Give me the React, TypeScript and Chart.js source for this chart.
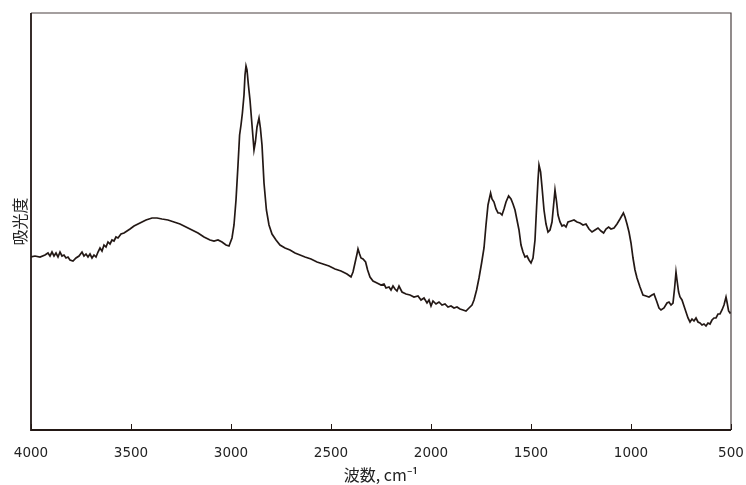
import { useEffect, useRef } from 'react';
import { Chart, registerables } from 'chart.js';

Chart.register(...registerables);

const wavenumbers = [
  4000, 3980, 3955, 3930, 3915, 3905, 3895, 3885, 3875, 3865,
  3855, 3845, 3835, 3825, 3815, 3805, 3790, 3775, 3760, 3745,
  3735, 3725, 3715, 3705, 3695, 3685, 3675, 3665, 3655, 3645,
  3635, 3625, 3615, 3605, 3595, 3585, 3575, 3565, 3550, 3535,
  3520, 3505, 3485, 3455, 3425, 3395, 3370, 3345, 3315, 3285,
  3255, 3225, 3195, 3165, 3135, 3105, 3085, 3065, 3045, 3025,
  3010, 2995, 2985, 2975, 2965, 2957, 2950, 2943, 2935, 2930,
  2925, 2920, 2913, 2905, 2895, 2885, 2878, 2870, 2860, 2853,
  2845, 2835, 2823, 2810, 2795, 2775, 2755, 2730, 2705, 2680,
  2655, 2630, 2600, 2570, 2540, 2510, 2480, 2450, 2420, 2400,
  2390, 2380, 2370, 2365, 2357, 2350, 2340, 2327, 2317, 2305,
  2290, 2270, 2250, 2235, 2225, 2210, 2200, 2190, 2180, 2170,
  2160, 2145, 2125, 2105, 2085, 2065, 2050, 2035, 2020, 2010,
  2000, 1990, 1975, 1960, 1945, 1930, 1915, 1900, 1885, 1870,
  1855, 1840, 1825, 1810, 1795, 1785, 1772, 1760, 1747, 1735,
  1725, 1715, 1702, 1695, 1685, 1675, 1665, 1655, 1645, 1635,
  1625, 1612, 1600, 1590, 1580, 1570, 1560, 1550, 1540, 1530,
  1520, 1510, 1500, 1490, 1480, 1472, 1465, 1460, 1452, 1445,
  1435, 1425, 1415, 1405, 1395, 1387, 1380, 1372, 1365, 1355,
  1345, 1335, 1325, 1315, 1300, 1285, 1270, 1255, 1240, 1225,
  1210, 1195, 1180, 1165, 1150, 1137, 1125, 1112, 1100, 1085,
  1070, 1055, 1038, 1030, 1020, 1010, 1000, 990, 980, 970,
  955, 940, 925, 910, 895, 885, 872, 860, 850, 835,
  820, 810, 800, 790, 782, 775, 770, 762, 755, 745,
  735, 725, 715, 705, 695, 685, 675, 665, 655, 645,
  635, 625, 615, 605, 595, 585, 575, 565, 555, 545,
  535, 525, 520, 512, 505, 500,
];

const absorbance = [
  173, 174, 173, 175, 177, 174, 178, 174, 177, 173,
  178, 174, 175, 172, 173, 170, 169, 172, 174, 178,
  174, 176, 173, 176, 172, 175, 173, 178, 182, 179,
  185, 183, 188, 186, 190, 189, 193, 192, 196, 197,
  199, 201, 204, 207, 210, 212, 212, 211, 210, 208,
  206, 203, 200, 197, 193, 190, 189, 190, 188, 185,
  184, 192, 205, 230, 265, 295, 305, 317, 335, 355,
  364, 360, 345, 330, 305, 280, 288, 303, 312, 302,
  285, 247, 220, 205, 196, 190, 185, 182, 180, 177,
  175, 173, 171, 168, 166, 164, 161, 159, 156, 153,
  158, 167, 176, 181, 176, 172, 171, 168, 160, 153,
  149, 147, 145, 146, 142, 143, 140, 144, 141, 139,
  144, 138, 136, 135, 133, 134, 130, 132, 127, 130,
  124, 129, 126, 128, 125, 126, 123, 124, 122, 123,
  121, 120, 119, 122, 125, 130, 140, 152, 167, 182,
  205, 225, 237, 231, 228, 221, 217, 217, 215, 221,
  228, 234, 231, 226, 220, 210, 200, 185, 178, 173,
  174, 170, 167, 172, 190, 223, 250, 265, 258, 243,
  220, 206, 198, 200, 208, 225, 240, 228, 215, 208,
  204, 205, 203, 208, 209, 210, 208, 207, 205, 206,
  201, 198, 200, 202, 199, 197, 201, 203, 201, 202,
  206, 211, 217, 213, 206, 198, 187, 172, 160, 152,
  143, 135, 134, 133, 135, 136, 129, 122, 120, 122,
  127, 128, 125, 127, 142, 158, 150, 138, 133, 130,
  124, 118, 112, 108, 111, 109, 112, 108, 107, 105,
  106, 104, 107, 106, 110, 112, 112, 116, 116, 120,
  125, 133, 128, 119, 117, 118,
];

const xTickValues = [4000, 3500, 3000, 2500, 2000, 1500, 1000, 500];
const xTitle = '波数, cm⁻¹';
const yTitle = '吸光度';

const INK = '#231815';

const framePlugin = {
  id: 'frame',
  afterDatasetsDraw(chart: any) {
    const { ctx, chartArea: a, scales } = chart;
    ctx.save();
    ctx.strokeStyle = '#4a4040';
    ctx.lineWidth = 1.2;
    ctx.beginPath();
    ctx.moveTo(a.left, a.top);
    ctx.lineTo(a.right, a.top);
    ctx.lineTo(a.right, a.bottom);
    ctx.stroke();
    ctx.strokeStyle = INK;
    ctx.lineWidth = 1.8;
    ctx.beginPath();
    ctx.moveTo(a.left, a.top);
    ctx.lineTo(a.left, a.bottom);
    ctx.lineTo(a.right, a.bottom);
    ctx.stroke();
    ctx.lineWidth = 1;
    const xs = scales.x;
    xs.ticks.forEach((t: any) => {
      const px = Math.round(xs.getPixelForValue(t.value)) + 0.5;
      ctx.beginPath();
      ctx.moveTo(px, a.bottom);
      ctx.lineTo(px, a.bottom - 6);
      ctx.stroke();
    });
    ctx.restore();
  },
};

export default function App() {
  const ref = useRef<HTMLCanvasElement>(null);

  useEffect(() => {
    if (!ref.current) return;
    const data = wavenumbers.map((w, i) => ({ x: w, y: absorbance[i] }));
    const chart = new Chart(ref.current, {
      type: 'line',
      data: {
        datasets: [
          {
            data,
            borderColor: INK,
            borderWidth: 1.7,
            pointRadius: 0,
            tension: 0,
            fill: false,
          },
        ],
      },
      options: {
        animation: false,
        responsive: false,
        maintainAspectRatio: false,
        layout: { padding: { top: 13, right: 15, left: 0, bottom: 0 } },
        plugins: {
          legend: { display: false },
          tooltip: { enabled: false },
        },
        scales: {
          x: {
            type: 'linear',
            reverse: true,
            min: 500,
            max: 4000,
            afterBuildTicks: (scale: any) => {
              scale.ticks = xTickValues.map((v) => ({ value: v }));
            },
            afterFit: (scale: any) => {
              scale.height = 55;
              scale.paddingLeft = 0;
              scale.paddingRight = 0;
            },
            grid: { display: false, drawTicks: false },
            border: { display: false },
            ticks: {
              padding: 15,
              color: '#222',
              font: { family: 'DejaVu Sans', size: 13.5 },
              callback: (v: any) => String(v),
              maxRotation: 0,
              autoSkip: false,
            },
            title: {
              display: true,
              text: xTitle,
              color: '#222',
              font: { family: 'Noto Sans CJK JP', size: 16 },
              padding: { top: 0, bottom: 0 },
            },
          },
          y: {
            min: 0,
            max: 417,
            afterFit: (scale: any) => {
              scale.width = 31;
            },
            grid: { display: false, drawTicks: false },
            border: { display: false },
            ticks: { display: false },
            title: {
              display: true,
              text: yTitle,
              color: '#222',
              font: { family: 'Noto Sans CJK JP', size: 16 },
              padding: { top: 10, bottom: 0 },
            },
          },
        },
      },
      plugins: [framePlugin],
    });
    return () => chart.destroy();
  }, []);

  return (
    <div
      style={{
        position: 'fixed',
        left: 0,
        top: 0,
        width: 746,
        height: 485,
        background: '#fff',
      }}
    >
      <canvas ref={ref} width={746} height={485} style={{ width: 746, height: 485 }} />
    </div>
  );
}
